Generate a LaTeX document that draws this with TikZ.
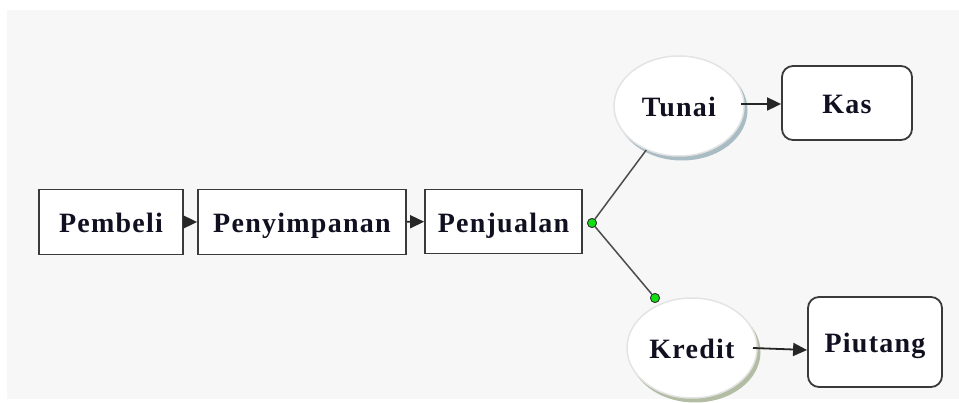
\documentclass[tikz,border=0pt]{standalone}
\usepackage{fontspec}
\setmainfont{Liberation Serif}
\newfontfamily\lblfont[LetterSpace=4.5]{Liberation Serif}
\usetikzlibrary{shapes.geometric,arrows.meta}
\definecolor{bg}{HTML}{F7F7F7}
\definecolor{boxline}{HTML}{3A3A3A}
\definecolor{txt}{HTML}{101020}
\definecolor{dotgreen}{HTML}{10E010}
\definecolor{shblue}{HTML}{A9BCC4}
\definecolor{shgreen}{HTML}{B3BDA3}
\definecolor{ellrim}{HTML}{E4E4E4}
\tikzset{
  lbl/.style={font=\lblfont\fontsize{28}{30}\selectfont\bfseries, text=txt, text depth=0pt, text height=22pt},
  sqbox/.style={lbl, draw=boxline, line width=1.8pt, fill=white, inner sep=0pt},
  rbox/.style={sqbox, rounded corners=11pt},
  ell/.style={ellipse, lbl, draw=ellrim, line width=1.5pt, fill=white, inner sep=0pt, minimum width=130pt, minimum height=100pt},
  ellsh/.style={ellipse, draw=none, inner sep=0pt, minimum width=131pt, minimum height=101pt},
  conn/.style={draw=black!85, line width=1.8pt, -{Triangle[length=14pt,width=13pt]}},
  plain/.style={draw=black!70, line width=1.5pt},
  gdot/.style={circle, fill=dotgreen, draw=black!80, line width=0.8pt, inner sep=0pt, minimum size=9pt}
}
\begin{document}
\begin{tikzpicture}[x=1pt,y=-1pt]
\useasboundingbox (0,0) rectangle (959,403);
\fill[bg] (7,10) rectangle (959,399);
% boxes
\node[sqbox, minimum width=144pt, minimum height=65pt] (pembeli) at (111,222) {Pembeli};
\node[sqbox, minimum width=208pt, minimum height=65pt] (penyimpanan) at (302,222) {Penyimpanan};
\node[sqbox, minimum width=157pt, minimum height=64pt] (penjualan) at (503.5,221.5) {Penjualan};
\node[rbox, minimum width=130pt, minimum height=74pt] (kas) at (847,103) {Kas};
\node[rbox, minimum width=134pt, minimum height=90pt] (piutang) at (875,342) {Piutang};
% ellipse shadows
\node[ellsh, fill=shblue] (tunaish) at (682,110) {};
\node[ellsh, fill=shgreen] (kreditsh) at (695,352) {};
\node[ell] (tunai) at (679,106) {Tunai};
\node[ell] (kredit) at (692,348) {Kredit};
% dots
\node[gdot] (d1) at (592,223) {};
\node[gdot] (d2) at (655,298) {};
% connectors
\draw[conn] (pembeli) -- (penyimpanan);
\draw[conn] (penyimpanan) -- (penjualan);
\draw[plain] (d1) -- (tunai);
\draw[plain] (d1) -- (d2);
\draw[conn] (741,104) -- (kas.west |- 0,104);
\draw[conn] (753,348) -- (piutang.west |- 0,350);
\node[gdot] at (d1) {};
\node[gdot] at (d2) {};
\end{tikzpicture}
\end{document}
